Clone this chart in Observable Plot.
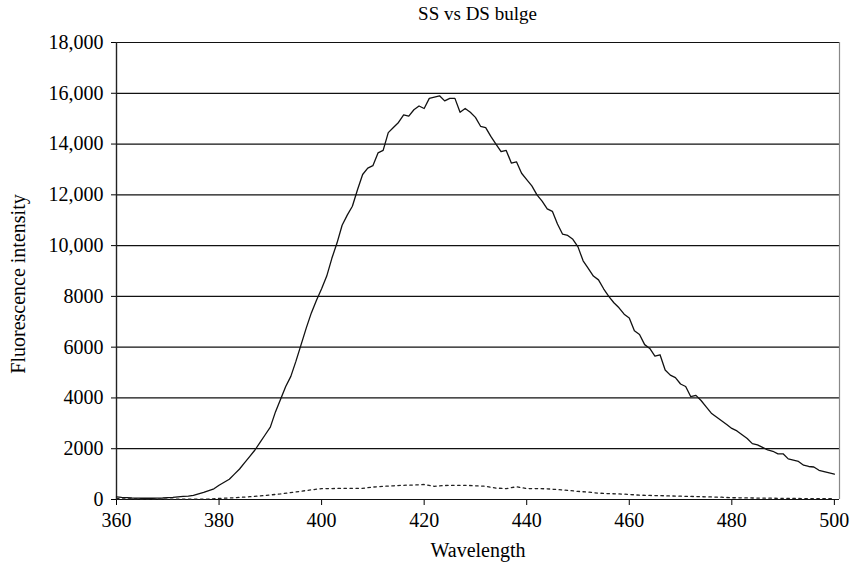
<!DOCTYPE html>
<html>
<head>
<meta charset="utf-8">
<script src="https://cdn.jsdelivr.net/npm/d3@7"></script>
<script src="https://cdn.jsdelivr.net/npm/@observablehq/plot@0.6"></script>
<style>
  body { margin: 0; background: #fff; }
  #title { width: 853px; height: 28px; line-height: 28px; box-sizing: border-box; padding-left: 102px; text-align: center; font-family: "Liberation Serif", "Times New Roman", Times, "DejaVu Serif", serif; font-size: 19px; color: #000; }
</style>
</head>
<body>
<div id="title">SS vs DS bulge</div>
<div id="chart"></div>
<script>
const titleText = "SS vs DS bulge";
const xLabel = "Wavelength";
const yLabel = "Fluorescence intensity";

const wavelengths = d3.range(360, 501);
const ssValues = [
  100, 80, 70, 60, 55, 50, 50, 50, 55, 60,
  70, 80, 100, 120, 130, 160, 220, 280, 350, 420,
  560, 680, 800, 1000, 1200, 1450, 1700, 1950, 2250, 2550,
  2850, 3450, 3950, 4450, 4850, 5450, 6100, 6750, 7350, 7850,
  8300, 8800, 9500, 10100, 10800, 11200, 11550, 12200, 12800, 13050,
  13150, 13650, 13750, 14450, 14650, 14850, 15150, 15100, 15350, 15500,
  15400, 15800, 15850, 15900, 15700, 15800, 15800, 15250, 15400, 15250,
  15050, 14700, 14650, 14300, 14000, 13700, 13750, 13250, 13300, 12850,
  12600, 12350, 12000, 11750, 11450, 11350, 10850, 10450, 10400, 10250,
  9950, 9400, 9100, 8800, 8650, 8300, 8000, 7750, 7550, 7300,
  7150, 6650, 6500, 6100, 5950, 5650, 5700, 5100, 4900, 4800,
  4550, 4450, 4050, 4100, 3900, 3650, 3400, 3250, 3100, 2950,
  2800, 2700, 2550, 2400, 2200, 2150, 2050, 1950, 1900, 1800,
  1800, 1600, 1550, 1500, 1350, 1300, 1280, 1150, 1100, 1050,
  1000
];

const dsWavelengths = [360, 365, 370, 375, 378, 380, 383, 386, 389, 392, 395, 398, 400, 402, 404, 406, 408, 410, 412, 414, 416, 418, 420, 422, 424, 426, 428, 430, 432, 434, 436, 438, 440, 442, 444, 446, 448, 450, 452, 454, 456, 458, 460, 462, 464, 466, 468, 470, 472, 474, 476, 478, 480, 484, 488, 492, 496, 500];
const dsValues = [30, 20, 10, 10, 20, 40, 70, 110, 160, 220, 300, 380, 430, 430, 440, 440, 440, 490, 520, 540, 560, 570, 590, 520, 550, 560, 560, 540, 520, 450, 430, 500, 430, 430, 420, 390, 360, 320, 290, 250, 230, 220, 200, 170, 160, 150, 140, 130, 120, 110, 100, 90, 70, 60, 50, 40, 35, 30];

const xTicks = [360, 380, 400, 420, 440, 460, 480, 500];
const yTicks = [0, 2000, 4000, 6000, 8000, 10000, 12000, 14000, 16000, 18000];
const yTickLabels = ["0", "2000", "4000", "6000", "8000", "10,000", "12,000", "14,000", "16,000", "18,000"];

const ss = wavelengths.map((w, i) => ({w, v: ssValues[i]}));
const ds = dsWavelengths.map((w, i) => ({w, v: dsValues[i]}));
const yLabelMap = new Map(yTicks.map((t, i) => [t, yTickLabels[i]]));

document.getElementById("title").textContent = titleText;

const serif = "'Liberation Serif', 'Times New Roman', Times, 'DejaVu Serif', serif";

const chart = Plot.plot({
  width: 853,
  height: 534,
  marginTop: 14,
  marginBottom: 63,
  marginLeft: 116,
  marginRight: 14,
  style: {fontFamily: serif, fontSize: "20px", color: "#000", background: "#fff"},
  x: {domain: [360, 501], ticks: xTicks, tickSize: 6, tickPadding: 7, tickFormat: d => String(d), label: null},
  y: {domain: [0, 18000], ticks: yTicks, tickSize: 5, tickPadding: 8, tickFormat: d => yLabelMap.get(d), label: null},
  marks: [
    Plot.ruleY(yTicks, {stroke: "#111", strokeWidth: 1.2}),
    Plot.ruleX([501], {stroke: "#888", strokeWidth: 1.2}),
    Plot.ruleX([360], {stroke: "#222", strokeWidth: 1.4}),
    Plot.line(ds, {x: "w", y: "v", stroke: "#222", strokeWidth: 1.3, strokeDasharray: "2.5,3.5"}),
    Plot.line(ss, {x: "w", y: "v", stroke: "#111", strokeWidth: 1.3}),
    Plot.text([yLabel], {frameAnchor: "left", textAnchor: "middle", dx: -98, dy: 13, rotate: -90, fontSize: 20, fontFamily: serif}),
    Plot.text([xLabel], {frameAnchor: "bottom", textAnchor: "middle", dy: 57, fontSize: 20, fontFamily: serif})
  ]
});
document.getElementById("chart").appendChild(chart);
</script>
</body>
</html>
